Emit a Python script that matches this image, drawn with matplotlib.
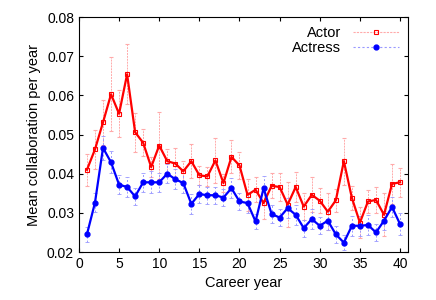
import matplotlib
matplotlib.use("Agg")
import matplotlib.pyplot as plt
from matplotlib.lines import Line2D
import numpy as np

plt.rcParams["font.family"] = ["Liberation Sans", "DejaVu Sans"]

# career year 1..40
years = list(range(1, 41))

# mean collaboration per year, actors (red)
actor = [0.0410, 0.0462, 0.0531, 0.0603, 0.0553, 0.0654, 0.0506, 0.0479, 0.0417, 0.0472,
         0.0432, 0.0426, 0.0406, 0.0432, 0.0396, 0.0393, 0.0434, 0.0376, 0.0443, 0.0421,
         0.0346, 0.0359, 0.0325, 0.0369, 0.0366, 0.0321, 0.0366, 0.0316, 0.0346, 0.0331,
         0.0303, 0.0332, 0.0432, 0.0338, 0.0275, 0.0329, 0.0333, 0.0295, 0.0374, 0.0378]
actor_err = [0.0041, 0.0050, 0.0058, 0.0095, 0.0060, 0.0077, 0.0050, 0.0035, 0.0025, 0.0085,
             0.0030, 0.0040, 0.0027, 0.0044, 0.0024, 0.0025, 0.0057, 0.0022, 0.0042, 0.0035,
             0.0040, 0.0032, 0.0040, 0.0032, 0.0036, 0.0057, 0.0038, 0.0035, 0.0045, 0.0032,
             0.0047, 0.0030, 0.0060, 0.0030, 0.0040, 0.0030, 0.0034, 0.0055, 0.0052, 0.0037]

# actresses (blue)
actress = [0.0245, 0.0326, 0.0466, 0.0429, 0.0372, 0.0366, 0.0342, 0.0378, 0.0378, 0.0378,
           0.0400, 0.0386, 0.0376, 0.0323, 0.0348, 0.0345, 0.0345, 0.0339, 0.0363, 0.0329,
           0.0325, 0.0278, 0.0363, 0.0297, 0.0288, 0.0312, 0.0295, 0.0261, 0.0284, 0.0267,
           0.0280, 0.0245, 0.0224, 0.0267, 0.0267, 0.0269, 0.0250, 0.0280, 0.0315, 0.0271]
actress_err = [0.0020, 0.0025, 0.0030, 0.0028, 0.0025, 0.0025, 0.0022, 0.0025, 0.0028, 0.0025,
               0.0025, 0.0025, 0.0025, 0.0025, 0.0022, 0.0022, 0.0022, 0.0022, 0.0025, 0.0022,
               0.0025, 0.0020, 0.0030, 0.0022, 0.0022, 0.0025, 0.0025, 0.0022, 0.0025, 0.0022,
               0.0025, 0.0022, 0.0020, 0.0025, 0.0025, 0.0025, 0.0022, 0.0025, 0.0025, 0.0028]

fig = plt.figure(figsize=(4.36, 3.0), dpi=100)
ax = fig.add_axes([0.181, 0.16, 0.755, 0.783])

a = ax.errorbar(years, actor, yerr=actor_err, color="red", lw=1.6, marker="s",
                ms=3.5, mfc="none", mew=0.8, ecolor="#ffaaaa", elinewidth=0.7,
                capsize=1.5, capthick=0.6)
a[2][0].set_linestyle((0, (2, 1)))
b = ax.errorbar(years, actress, yerr=actress_err, color="blue", lw=1.6, marker="o",
                ms=3.5, ecolor="#9999ff", elinewidth=0.7,
                capsize=1.5, capthick=0.6)
b[2][0].set_linestyle((0, (2, 2)))

ax.set_xlim(0, 41)
ax.set_ylim(0.02, 0.08)
ax.set_xticks(np.arange(0, 41, 5))
ax.set_yticks(np.arange(0.02, 0.081, 0.01))
ax.set_yticklabels(["%.2f" % v for v in np.arange(0.02, 0.081, 0.01)])
ax.tick_params(direction="in", top=True, right=True, labelsize=10, length=3)
ax.set_xlabel("Career year", fontsize=10.5)
ax.set_ylabel("Mean collaboration per year", fontsize=10.5)

# gnuplot style key: light dashed sample with the point in the middle
h_actor = Line2D([], [], color="#ffaaaa", lw=0.8, ls=(0, (2, 1)), marker="s",
                 ms=3.5, mfc="none", mec="red", mew=0.8)
h_actress = Line2D([], [], color="#9999ff", lw=0.8, ls=(0, (2, 2)), marker="o",
                   ms=3.5, mfc="blue", mec="blue")
ax.legend([h_actor, h_actress], ["Actor", "Actress"], loc="upper right",
          frameon=False, markerfirst=False, fontsize=10.5, numpoints=1,
          handlelength=3.2, labelspacing=0.1, borderaxespad=0.2, handletextpad=0.8)

fig.savefig("out.png", dpi=100)
